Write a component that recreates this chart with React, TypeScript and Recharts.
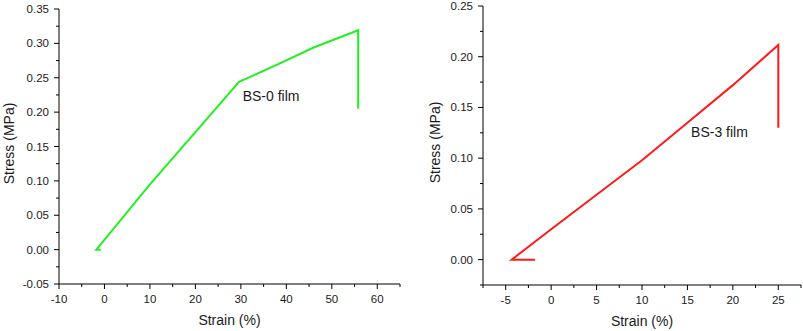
import React from 'react';
import { LineChart, Line, XAxis, YAxis, ReferenceDot } from 'recharts';

// BS-0 film, strain (%) vs stress (MPa)
const bs0Strain = [-0.8, -1.8, 10, 20, 29.6, 38, 46, 55.8, 55.8];
const bs0Stress = [0, 0, 0.095, 0.171, 0.244, 0.269, 0.294, 0.319, 0.205];

// BS-3 film
const bs3Strain = [-1.76, -4.34, 0, 5, 10, 15, 20, 25, 25];
const bs3Stress = [0, 0, 0.03, 0.064, 0.098, 0.135, 0.172, 0.2115, 0.13];

const leftXMajor = [-10, 0, 10, 20, 30, 40, 50, 60];
const leftXTicks = [-10, -5, 0, 5, 10, 15, 20, 25, 30, 35, 40, 45, 50, 55, 60, 65];
const leftYMajor = [-0.05, 0, 0.05, 0.1, 0.15, 0.2, 0.25, 0.3, 0.35];
const leftYTicks = [-0.05, -0.025, 0, 0.025, 0.05, 0.075, 0.1, 0.125, 0.15, 0.175, 0.2, 0.225, 0.25, 0.275, 0.3, 0.325, 0.35];

const rightXMajor = [-5, 0, 5, 10, 15, 20, 25];
const rightXTicks = [-7.5, -5, -2.5, 0, 2.5, 5, 7.5, 10, 12.5, 15, 17.5, 20, 22.5, 25, 27.5];
const rightYMajor = [0, 0.05, 0.1, 0.15, 0.2, 0.25];
const rightYTicks = [-0.025, 0, 0.025, 0.05, 0.075, 0.1, 0.125, 0.15, 0.175, 0.2, 0.225, 0.25];

const bs0Data = bs0Strain.map((x, i) => ({ strain: x, stress: bs0Stress[i] }));
const bs3Data = bs3Strain.map((x, i) => ({ strain: x, stress: bs3Stress[i] }));

const TICK_OFF = 9; // tickSize + tickMargin
const textColor = '#1a1a1a';

const isMajor = (v: number, majors: number[]) => majors.some(m => Math.abs(m - v) < 1e-9);

const makeXTick = (majors: number[]) => (props: any) => {
  const { x, y, payload } = props;
  const v = payload.value;
  const major = isMajor(v, majors);
  const y0 = y - TICK_OFF;
  return (
    <g>
      <line x1={x} x2={x} y1={y0} y2={y0 + (major ? 5 : 3)} stroke="#000" />
      {major && (
        <text x={x} y={y + 2} dy="0.71em" textAnchor="middle" fontSize={11.5} fill={textColor}>
          {v}
        </text>
      )}
    </g>
  );
};

const makeYTick = (majors: number[]) => (props: any) => {
  const { x, y, payload } = props;
  const v = payload.value;
  const major = isMajor(v, majors);
  const x0 = x + TICK_OFF;
  return (
    <g>
      <line x1={x0} x2={x0 - (major ? 5 : 3)} y1={y} y2={y} stroke="#000" />
      {major && (
        <text x={x - 1} y={y} dy="0.35em" textAnchor="end" fontSize={11.5} fill={textColor}>
          {v.toFixed(2)}
        </text>
      )}
    </g>
  );
};

// vertical axis title, placed at a fixed x inside the chart
const yTitle = (cx: number) => (props: any) => {
  const { viewBox } = props;
  const cy = viewBox.y + viewBox.height / 2 - 3;
  return (
    <text x={cx} y={cy} dy="0.35em" textAnchor="middle" fontSize={14} fill={textColor}
      transform={`rotate(-90, ${cx}, ${cy})`}>
      Stress (MPa)
    </text>
  );
};

const filmLabel = (text: string) => (props: any) => (
  <text x={props.cx} y={props.cy} dy="0.35em" textAnchor="start" fontSize={14} fill={textColor}>
    {text}
  </text>
);

export default function App() {
  return (
    <div style={{ position: 'absolute', left: 0, top: 0, width: 803, height: 331, fontFamily: '"Liberation Sans", Arial, sans-serif', background: '#fff' }}>
      <div style={{ position: 'absolute', left: 0, top: 0 }}>
        <LineChart width={405} height={331} data={bs0Data} margin={{ top: 9, right: 5, bottom: 0, left: 0 }}>
          <XAxis
            type="number"
            dataKey="strain"
            domain={[-10, 65]}
            ticks={leftXTicks}
            interval={0}
            tickSize={6}
            tickMargin={3}
            tickLine={false}
            stroke="#000"
            height={47}
            tick={makeXTick(leftXMajor)}
            label={{ value: 'Strain (%)', position: 'insideBottom', offset: 6, fontSize: 14, fill: textColor }}
          />
          <YAxis
            type="number"
            dataKey="stress"
            domain={[-0.05, 0.35]}
            ticks={leftYTicks}
            interval={0}
            tickSize={6}
            tickMargin={3}
            tickLine={false}
            stroke="#000"
            width={59}
            tick={makeYTick(leftYMajor)}
            label={{ content: yTitle(9) }}
          />
          <Line type="linear" dataKey="stress" stroke="#22f022" strokeWidth={2} dot={false} isAnimationActive={false} />
          <ReferenceDot x={30.4} y={0.224} r={0} shape={filmLabel('BS-0 film')} />
        </LineChart>
      </div>
      <div style={{ position: 'absolute', left: 400, top: 0 }}>
        <LineChart width={403} height={331} data={bs3Data} margin={{ top: 6, right: 2, bottom: 0, left: 0 }}>
          <XAxis
            type="number"
            dataKey="strain"
            domain={[-7.5, 27.5]}
            ticks={rightXTicks}
            interval={0}
            tickSize={6}
            tickMargin={3}
            tickLine={false}
            stroke="#000"
            height={46}
            tick={makeXTick(rightXMajor)}
            label={{ value: 'Strain (%)', position: 'insideBottom', offset: 5, fontSize: 14, fill: textColor }}
          />
          <YAxis
            type="number"
            dataKey="stress"
            domain={[-0.025, 0.25]}
            ticks={rightYTicks}
            interval={0}
            tickSize={6}
            tickMargin={3}
            tickLine={false}
            stroke="#000"
            width={83}
            tick={makeYTick(rightYMajor)}
            label={{ content: yTitle(35) }}
          />
          <Line type="linear" dataKey="stress" stroke="#ff1a1a" strokeWidth={2} dot={false} isAnimationActive={false} />
          <ReferenceDot x={15.4} y={0.126} r={0} shape={filmLabel('BS-3 film')} />
        </LineChart>
      </div>
    </div>
  );
}
